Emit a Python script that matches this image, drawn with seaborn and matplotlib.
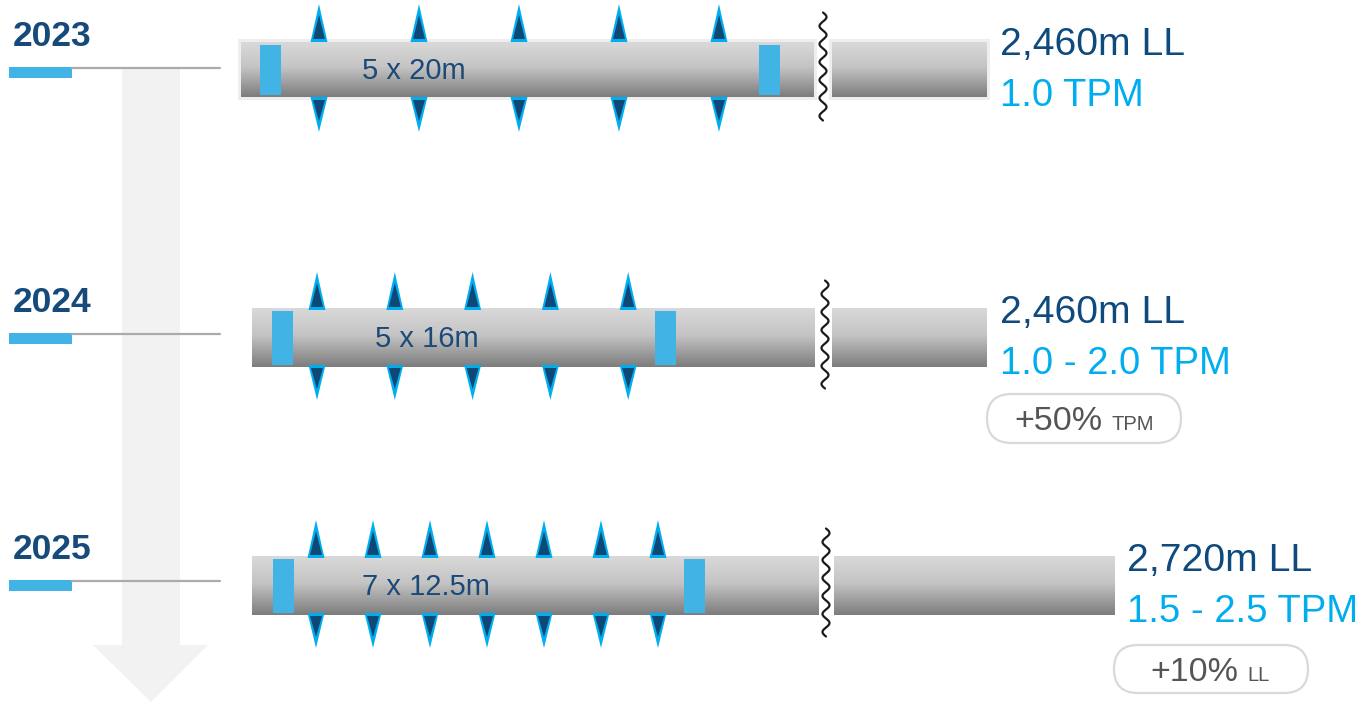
import numpy as np
import seaborn as sns
import matplotlib.pyplot as plt
from matplotlib.patches import Polygon, Rectangle, FancyBboxPatch

# data
years = ["2023", "2024", "2025"]
segment_counts = [5, 5, 7]
segment_lengths = ["20m", "16m", "12.5m"]
line_lengths = ["2,460m LL", "2,460m LL", "2,720m LL"]
tpm_ranges = ["1.0 TPM", "1.0 - 2.0 TPM", "1.5 - 2.5 TPM"]
badge_values = [None, "+50%", "+10%"]
badge_units = [None, "TPM", "LL"]

# layout (pixels)
row_y = [69.5, 337.5, 585.5]
half_h = [27.5, 29.5, 29.5]
bar_left = [241, 252, 252]
bar_break = [814, 815, 819]
wave_x = [823, 825, 826]
tail_left = [832, 832, 834]
tail_right = [987, 987, 1115]
marker_x = [(260, 759), (272, 655), (273, 684)]
first_tri = [319, 317, 316]
tri_step = [100, 77.8, 57]
label_x = [362, 375, 362]
text_x = [1000, 1000, 1127]
tab_y = [67, 333, 580]
badge_box = [None, (987, 394, 194, 49), (1114, 645, 194, 48)]
badge_split = [None, 1103, 1238]

NAVY = "#154a7b"
CYAN = "#00aeef"
MARK = "#41b4e5"

sns.set_theme(style="white")
plt.rcParams['font.family'] = ['Liberation Sans', 'DejaVu Sans']

fig = plt.figure(figsize=(13.71, 7.07), dpi=100)
ax = fig.add_axes([0, 0, 1, 1])
ax.axis('off')


def gradient_bar(x0, x1, yt, yb):
    g = np.interp(np.linspace(0, 1, 64), [0, 0.45, 1], [0.85, 0.77, 0.49])
    img = np.dstack([np.repeat(g[:, None], 2, axis=1)] * 3)
    ax.imshow(img, extent=(x0, x1, yb, yt), origin='upper', aspect='auto',
              interpolation='bilinear', zorder=3)


# big arrow in the background
ax.add_patch(Polygon([(122, 67), (180, 67), (180, 645), (208, 645), (151, 702),
                      (93, 645), (122, 645)], closed=True, color="#f2f2f2", lw=0, zorder=0))

for i, yr in enumerate(years):
    cy = row_y[i]
    yt, yb = cy - half_h[i], cy + half_h[i]

    # year label and guide
    ax.text(13, tab_y[i] - 21, yr, fontsize=25.5, fontweight='bold', color=NAVY, va='baseline')
    ax.add_patch(Rectangle((9, tab_y[i]), 63, 11, color=MARK, lw=0, zorder=2))
    ax.plot([72, 220], [tab_y[i] + 1, tab_y[i] + 1], color="#ababab", lw=1.6, zorder=2)

    # pipe bar
    if i == 0:
        ax.add_patch(Rectangle((bar_left[i] - 3, yt - 3), bar_break[i] - bar_left[i] + 6,
                               yb - yt + 6, color="#eeeeee", lw=0, zorder=2))
        ax.add_patch(Rectangle((tail_left[i] - 3, yt - 3), tail_right[i] - tail_left[i] + 6,
                               yb - yt + 6, color="#eeeeee", lw=0, zorder=2))
    gradient_bar(bar_left[i], bar_break[i], yt, yb)
    gradient_bar(tail_left[i], tail_right[i], yt, yb)

    for mx in marker_x[i]:
        ax.add_patch(Rectangle((mx, yt + 2.5), 21, yb - yt - 5, color=MARK, lw=0, zorder=4))

    # break mark
    wy = np.linspace(cy - 57, cy + 51, 300)
    ax.plot(wave_x[i] + 3.5 * np.sin(2 * np.pi * (wy - wy[0]) / 18), wy,
            color="#1a1a1a", lw=1.6, zorder=5)

    # triangles
    for k in range(segment_counts[i]):
        tx = first_tri[i] + k * tri_step[i]
        up_tip, dn_tip = cy - 65.5, cy + 62.5
        bt, bb = cy - 27.5, cy + 27.5
        ax.add_patch(Polygon([(tx - 8.5, bt), (tx + 8.5, bt), (tx, up_tip)], color=CYAN, lw=0, zorder=5))
        ax.add_patch(Polygon([(tx - 6, bt - 3), (tx + 6, bt - 3), (tx, up_tip + 11)],
                             color="#0d4877", lw=0, zorder=6))
        ax.add_patch(Polygon([(tx - 8.5, bb), (tx + 8.5, bb), (tx, dn_tip)], color=CYAN, lw=0, zorder=5))
        ax.add_patch(Polygon([(tx - 6, bb + 3), (tx + 6, bb + 3), (tx, dn_tip - 11)],
                             color="#0d4877", lw=0, zorder=6))

    ax.text(label_x[i], cy + 9.5, f"{segment_counts[i]} x {segment_lengths[i]}",
            fontsize=21, color="#1c4a78", va='baseline', zorder=7)

    # right-hand figures
    ax.text(text_x[i], cy - 14.5, line_lengths[i], fontsize=28.2, color="#0e4a7d", va='baseline')
    ax.text(text_x[i], cy + 36.5, tpm_ranges[i], fontsize=27.5, color=CYAN, va='baseline')

    if badge_box[i] is not None:
        bx, by, bw, bh = badge_box[i]
        ax.add_patch(FancyBboxPatch((bx, by), bw, bh,
                                    boxstyle=f"round,pad=0,rounding_size={bh / 2}",
                                    facecolor="white", edgecolor="#d9d9d9", lw=1.6, zorder=2))
        ax.text(badge_split[i], by + bh / 2 + 12, badge_values[i], fontsize=24.5,
                color="#555555", ha='right', va='baseline', zorder=3)
        ax.text(badge_split[i] + 9, by + bh / 2 + 12, badge_units[i], fontsize=14.5,
                color="#555555", ha='left', va='baseline', zorder=3)

ax.set_xlim(0, 1371)
ax.set_ylim(707, 0)
fig.savefig("out.png", dpi=100)
